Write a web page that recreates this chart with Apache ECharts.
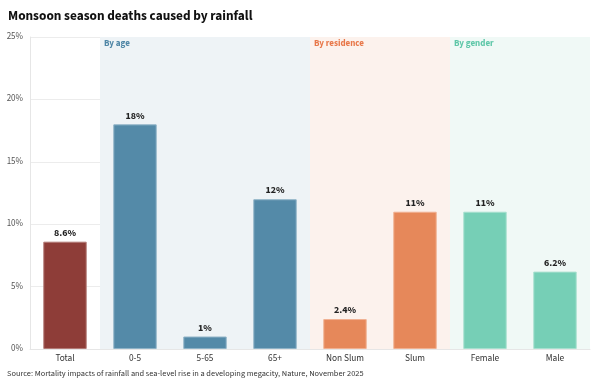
<!DOCTYPE html>
<html>
<head>
<meta charset="utf-8">
<script src="https://cdn.jsdelivr.net/npm/echarts@6/dist/echarts.min.js"></script>
<style>html,body{margin:0;padding:0;background:#fff;}#c{width:600px;height:390px;}</style>
</head>
<body>
<div id="c"></div>
<script>
const categories = ['Total', '0-5', '5-65', '65+', 'Non Slum', 'Slum', 'Female', 'Male'];
const values = [8.6, 18, 1, 12, 2.4, 11, 11, 6.2];
const valueLabels = ['8.6%', '18%', '1%', '12%', '2.4%', '11%', '11%', '6.2%'];
const barGroup = [0, 1, 1, 1, 2, 2, 3, 3];
const groupNames = ['By age', 'By residence', 'By gender'];
const groupStart = [1, 4, 6];
const groupEnd = [3, 5, 7];
const yTicks = [0, 5, 10, 15, 20, 25];

const barColors = ['#8e3d38', '#548aa8', '#e6885a', '#76cfb6'];
const barBorders = ['#b27a76', '#8fb3c7', '#f0b192', '#a7e0cf'];
const bandColors = ['#eef3f6', '#fcf2ed', '#f0f9f6'];
const bandText = ['#4f86a6', '#e8784a', '#5ec7a8'];

const chart = echarts.init(document.getElementById('c'), null, {renderer: 'canvas'});
const FONT = "'Source Sans 3'";

chart.setOption({
  animation: false,
  title: {
    text: 'Monsoon season deaths caused by rainfall',
    left: 8, top: 11, padding: 0,
    textStyle: {fontFamily: FONT, fontSize: 13.3, fontWeight: 'bold', color: '#111'}
  },
  graphic: [{
    type: 'text', left: 7, top: 370,
    style: {text: 'Source: Mortality impacts of rainfall and sea-level rise in a developing megacity, Nature, November 2025',
      font: '8.3px ' + FONT, fill: '#333'}
  }],
  grid: {left: 30, right: 10, top: 37, bottom: 41, containLabel: false},
  xAxis: {
    type: 'category', data: categories,
    axisLine: {show: true, lineStyle: {color: '#e6e6e6'}},
    axisTick: {show: false},
    axisLabel: {fontFamily: FONT, fontSize: 9.3, color: '#333', margin: 5}
  },
  yAxis: {
    type: 'value', min: yTicks[0], max: yTicks[yTicks.length - 1], interval: 5,
    axisLine: {show: true, lineStyle: {color: '#e6e6e6'}},
    axisTick: {show: false},
    splitLine: {lineStyle: {color: '#ececec'}},
    axisLabel: {formatter: '{value}%', fontFamily: FONT, fontSize: 9, color: '#555', margin: 7}
  },
  series: [
    {
      type: 'custom',
      silent: true,
      z: 0,
      data: groupNames.map((n, i) => [groupStart[i], groupEnd[i], i]),
      encode: {x: [0, 1]},
      renderItem: function (params, api) {
        const s = api.value(0), e = api.value(1), gi = api.value(2);
        const w = api.size([1, 0])[0];
        const p1 = api.coord([s, 0]);
        const p2 = api.coord([e, 0]);
        const cs = params.coordSys;
        const x0 = p1[0] - w / 2, x1 = p2[0] + w / 2;
        return {
          type: 'group',
          children: [
            {type: 'rect', shape: {x: x0, y: cs.y, width: x1 - x0, height: cs.height},
              style: {fill: bandColors[gi]}},
            {type: 'text', x: x0 + 4, y: cs.y + 2.5,
              style: {text: groupNames[gi], fill: bandText[gi], font: 'bold 9px ' + FONT}}
          ]
        };
      }
    },
    {
      type: 'bar',
      z: 2,
      barWidth: '62%',
      data: values.map((v, i) => ({
        value: v,
        itemStyle: {color: barColors[barGroup[i]], borderColor: barBorders[barGroup[i]], borderWidth: 1}
      })),
      label: {
        show: true, position: 'top', distance: 3,
        formatter: p => valueLabels[p.dataIndex],
        fontFamily: FONT, fontSize: 10, fontWeight: 'bold', color: '#222'
      }
    }
  ]
});
</script>
</body>
</html>
